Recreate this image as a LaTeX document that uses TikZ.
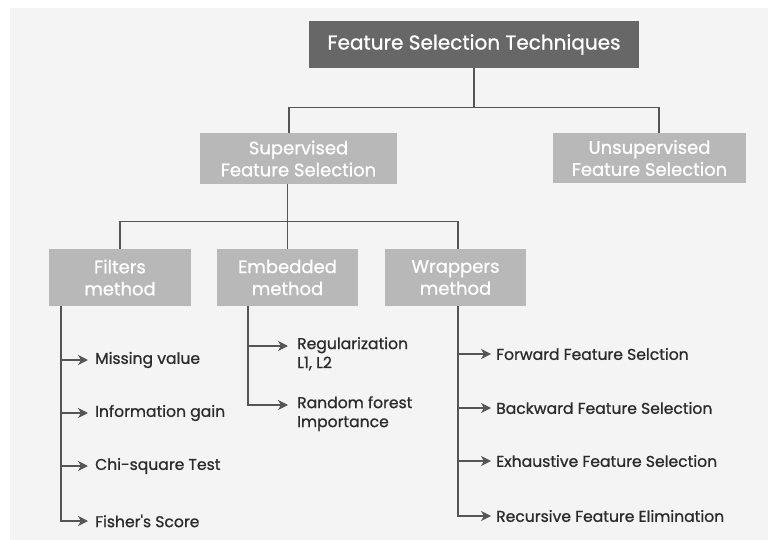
\documentclass[tikz,border=0pt]{standalone}
\usepackage{fontspec}
\setmainfont{Poppins}
\newfontfamily\semib{Poppins}[FakeBold=0.9]
\usetikzlibrary{arrows.meta}
\definecolor{pagebg}{HTML}{F4F4F4}
\definecolor{rootfill}{HTML}{676767}
\definecolor{boxfill}{HTML}{B8B8B8}
\definecolor{linecol}{HTML}{555555}
\definecolor{itemtext}{HTML}{2B2B2B}
\tikzset{
  rootbox/.style={fill=rootfill, text=white, inner sep=0pt,
    font=\semib\fontsize{20}{22}\selectfont},
  catbox/.style={fill=boxfill, text=white, inner sep=0pt, align=center,
    font=\semib\fontsize{18}{22}\selectfont},
  item/.style={inner sep=0pt, text=itemtext, align=left,
    font=\semib\fontsize{15.6}{19}\selectfont},
  conn/.style={draw=linecol, line width=1.3pt},
  branch/.style={draw=linecol, line width=1.5pt,
    -{Stealth[length=10pt,width=10pt,inset=3pt]}},
}
\begin{document}
\begin{tikzpicture}[x=1pt,y=-1pt]
  \useasboundingbox (0,0) rectangle (768,540);
  \fill[pagebg] (10,8) rectangle (768,540);

  % root and the two families
  \node[rootbox, minimum width=330pt, minimum height=47pt] (root) at (474,44.5)
    {Feature Selection Techniques};
  \node[catbox, minimum width=197pt, minimum height=51pt] (sup) at (298.5,158.5)
    {Supervised\\Feature Selection};
  \node[catbox, minimum width=193pt, minimum height=50pt] (uns) at (649.5,158)
    {Unsupervised\\Feature Selection};

  % supervised methods
  \node[catbox, minimum width=142pt, minimum height=57pt] (fil) at (120,277.5)
    {Filters\\method};
  \node[catbox, minimum width=141pt, minimum height=57pt] (emb) at (287.5,277.5)
    {Embedded\\method};
  \node[catbox, minimum width=141pt, minimum height=57pt] (wrp) at (455.5,277.5)
    {Wrappers\\method};

  % tree connectors
  \draw[conn] (root.south) -- ++(0,40);
  \draw[conn] ([xshift=-9.5pt]sup.north) -- ++(0,-25) -| ([xshift=9.5pt]uns.north);
  \draw[conn] (emb.north) -- (emb.north |- sup.south);
  \draw[conn] (fil.north) -- ++(0,-27) -| ([xshift=2.5pt]wrp.north);

  % filter techniques
  \node[item, anchor=west] (f1) at (95,360) {Missing value};
  \node[item, anchor=west] (f2) at (95,413) {Information gain};
  \node[item, anchor=west] (f3) at (95,466) {Chi-square Test};
  \node[item, anchor=west] (f4) at (95,521) {Fisher's Score};
  \foreach \t in {f1,f2,f3,f4}
    \draw[branch] ([xshift=12pt]fil.south west) |- ([xshift=-7pt]\t.west);

  % embedded techniques
  \node[item, anchor=north west] (e1) at (297,337) {Regularization\\L1, L2};
  \node[item, anchor=north west] (e2) at (297,396) {Random forest\\Importance};
  \foreach \t in {e1,e2}
    \draw[branch] ([xshift=-39.5pt]emb.south) |- ([xshift=-9pt,yshift=-9pt]\t.north west);

  % wrapper techniques
  \node[item, anchor=west] (w1) at (496,354) {Forward Feature Selction};
  \node[item, anchor=west] (w2) at (496,408) {Backward Feature Selection};
  \node[item, anchor=west] (w3) at (496,461) {Exhaustive Feature Selection};
  \node[item, anchor=west] (w4) at (496,516) {Recursive Feature Elimination};
  \foreach \t in {w1,w2,w3,w4}
    \draw[branch] ([xshift=2.5pt]wrp.south) |- ([xshift=-5pt]\t.west);
\end{tikzpicture}
\end{document}
